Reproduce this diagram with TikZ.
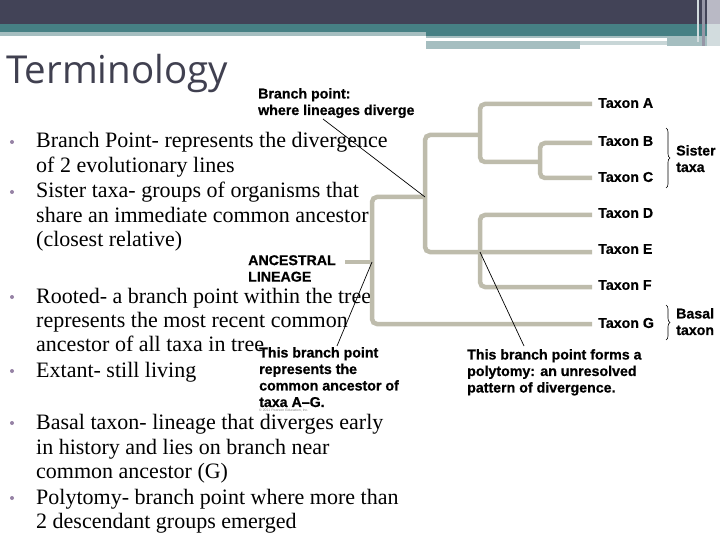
\documentclass[tikz,border=0pt]{standalone}
\usepackage{fontspec}
\setmainfont{Liberation Serif}
\newfontfamily\labfont{Liberation Sans}[BoldFeatures={FakeBold=0.6}]
\newfontfamily\ttlfont{Open Sans}
\usetikzlibrary{decorations.pathreplacing}
\definecolor{darkband}{RGB}{66,67,87}
\definecolor{tealband}{RGB}{70,128,132}
\definecolor{lightteal}{RGB}{165,190,192}
\definecolor{paleteal}{RGB}{200,214,215}
\definecolor{stripeA}{RGB}{185,185,197}
\definecolor{stripeB}{RGB}{150,150,166}
\definecolor{stripeC}{RGB}{210,220,222}
\definecolor{branchc}{RGB}{190,188,172}
\definecolor{titlec}{RGB}{64,64,80}
\definecolor{bulletc}{RGB}{150,130,165}
\begin{document}
\begin{tikzpicture}[x=1pt,y=-1pt,
  branch/.style={draw=branchc, line width=4.5pt, rounded corners=5pt},
  callout/.style={draw=black, line width=0.7pt},
  lbl/.style={font=\labfont\bfseries\fontsize{14.2}{16.5}\selectfont, align=left, inner sep=0pt, anchor=north west},
  taxon/.style={font=\labfont\bfseries\fontsize{14.2}{16.5}\selectfont, inner sep=0pt, anchor=west},
  btext/.style={font=\fontsize{22}{24}\selectfont, inner sep=0pt, anchor=base west},
  bdot/.style={circle, fill=bulletc, inner sep=0pt, minimum size=4pt},
  bracec/.style={draw, line width=0.6pt, decorate, decoration={brace, amplitude=4pt}}
]
\useasboundingbox (0,0) rectangle (720,540);
\fill[white] (0,0) rectangle (720,540);
% header bands
\fill[darkband] (0,0) rectangle (720,24);
\fill[tealband] (0,24) rectangle (720,32);
\fill[lightteal] (0,32) rectangle (426,36);
\fill[tealband] (426,32) rectangle (720,36);
\fill[lightteal] (426,36) rectangle (720,38);
\fill[lightteal] (426,41) rectangle (580,49);
\fill[paleteal] (580,41) rectangle (667,45);
\fill[lightteal] (667,38) rectangle (707,46);
\fill[stripeA] (707,0) rectangle (720,24);
\fill[stripeC] (707,24) rectangle (720,46);
\fill[stripeB] (702,0) rectangle (705,46);
\fill[stripeC] (697,0) rectangle (699,42);
% title
\node[font=\ttlfont\fontsize{38.5}{42}\selectfont, text=titlec, anchor=base west, inner sep=0pt] (title) at (6,84) {Terminology};
% bullets
\node[bdot] (d1) at (12,142) {};
\node[btext] (l1) at (36,148) {Branch Point- represents the divergence};
\node[btext] (l2) at (36,172.5) {of \oldstylenums{2} evolutionary lines};
\node[bdot] (d2) at (12,192) {};
\node[btext] (l3) at (36,198) {Sister taxa- groups of organisms that};
\node[btext] (l4) at (36,222.5) {share an immediate common ancestor};
\node[btext] (l5) at (36,247) {(closest relative)};
\node[bdot] (d3) at (12,297) {};
\node[btext] (l6) at (36,303) {Rooted- a branch point within the tree};
\node[btext] (l7) at (36,327) {represents the most recent common};
\node[btext] (l8) at (36,351) {ancestor of all taxa in tree};
\node[bdot] (d4) at (12,371) {};
\node[btext] (l9) at (36,377) {Extant- still living};
\node[bdot] (d5) at (12,423) {};
\node[btext] (l10) at (36,429) {Basal taxon- lineage that diverges early};
\node[btext] (l11) at (36,454) {in history and lies on branch near};
\node[btext] (l12) at (36,478) {common ancestor (G)};
\node[bdot] (d6) at (12,498) {};
\node[btext] (l13) at (36,504) {Polytomy- branch point where more than};
\node[btext] (l14) at (36,528) {\oldstylenums{2} descendant groups emerged};
% tree coordinates
\coordinate (root) at (372,262);
\coordinate (anc) at (345,262);
\coordinate (rtop) at (372,197);
\coordinate (rbot) at (372,324);
\coordinate (up) at (425,197);
\coordinate (uptop) at (425,135);
\coordinate (upbot) at (425,252);
\coordinate (abc) at (480,135);
\coordinate (abctop) at (480,104);
\coordinate (abcbot) at (480,162);
\coordinate (bc) at (540,162);
\coordinate (bctop) at (540,143);
\coordinate (bcbot) at (540,178);
\coordinate (poly) at (480,252);
\coordinate (polytop) at (480,215);
\coordinate (polybot) at (480,287);
\coordinate (tA) at (592,104);
\coordinate (tB) at (592,143);
\coordinate (tC) at (592,178);
\coordinate (tD) at (592,215);
\coordinate (tE) at (592,252);
\coordinate (tF) at (592,287);
\coordinate (tG) at (592,324);
% branches
\draw[branch] (tG) -- (rbot) -- (rtop) -- (up);
\draw[branch] (anc) -- (root);
\draw[branch] (abc) -- (uptop) -- (upbot) -- (tE);
\draw[branch] (tA) -- (abctop) -- (abcbot) -- (bc);
\draw[branch] (tB) -- (bctop) -- (bcbot) -- (tC);
\draw[branch] (tD) -- (polytop) -- (polybot) -- (tF);
% taxon labels
\node[taxon] (A) at (598,103) {Taxon A};
\node[taxon] (B) at (598,141) {Taxon B};
\node[taxon] (C) at (598,177) {Taxon C};
\node[taxon] (D) at (598,213) {Taxon D};
\node[taxon] (E) at (598,249) {Taxon E};
\node[taxon] (F) at (598,285) {Taxon F};
\node[taxon] (G) at (598,323) {Taxon G};
% braces
\coordinate (sbt) at (666,128);
\coordinate (sbb) at (666,188);
\draw[bracec] (sbt) -- (sbb);
\node[lbl] (sister) at (676,145) {Sister\\taxa};
\coordinate (bbt) at (666,305);
\coordinate (bbb) at (666,340);
\draw[bracec] (bbt) -- (bbb);
\node[lbl] (basal) at (676,308) {Basal\\taxon};
% callout labels
\node[lbl] (bplabel) at (258,88) {Branch point:\\where lineages diverge};
\node[lbl] (anclabel) at (248,255) {ANCESTRAL\\LINEAGE};
\node[lbl] (rootlabel) at (259,347) {This branch point\\represents the\\common ancestor of\\taxa A–G.};
\node[font=\labfont\fontsize{3.5}{4}\selectfont, text=gray, inner sep=0pt, anchor=north west] (copy) at ([yshift=-1.5pt]rootlabel.south west) {© 2011 Pearson Education, Inc.};
\node[lbl] (polylabel) at (467,349) {This branch point forms a\\polytomy: an unresolved\\pattern of divergence.};
% callout lines
\coordinate (bpstart) at (323,119);
\coordinate (rootend) at (337,346);
\coordinate (polyend) at (524,346);
\draw[callout] (bpstart) -- (up);
\draw[callout] (root) -- (rootend);
\draw[callout] (poly) -- (polyend);
\end{tikzpicture}
\end{document}
